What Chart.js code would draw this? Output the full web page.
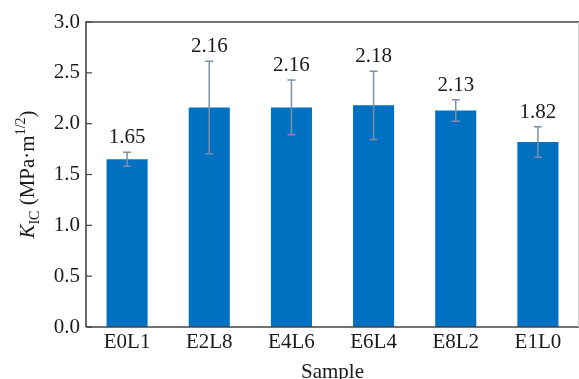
<!DOCTYPE html>
<html>
<head>
<meta charset="utf-8">
<script src="https://cdn.jsdelivr.net/npm/chart.js@4.4.1/dist/chart.umd.min.js"></script>
<style>
  html, body { margin: 0; padding: 0; background: #fff; }
  #wrap { width: 579px; height: 379px; }
</style>
</head>
<body>
<div id="wrap"><canvas id="chart" width="579" height="379"></canvas></div>
<script>
// data
const samples = ['E0L1', 'E2L8', 'E4L6', 'E6L4', 'E8L2', 'E1L0'];
const kic = [1.65, 2.16, 2.16, 2.18, 2.13, 1.82];
const kicErr = [0.07, 0.455, 0.27, 0.335, 0.105, 0.15];
const yTicks = [0, 0.5, 1.0, 1.5, 2.0, 2.5, 3.0];

const FONT = '"Liberation Serif", "Times New Roman", serif';

// frame, inward ticks, error bars, value labels and axis titles
const decorations = {
  id: 'decorations',
  afterDatasetsDraw(chart) {
    const ctx = chart.ctx;
    const area = chart.chartArea;
    const y = chart.scales.y;
    const meta = chart.getDatasetMeta(0);

    ctx.save();
    // error bars
    ctx.strokeStyle = '#7d90aa';
    ctx.lineWidth = 1.5;
    meta.data.forEach((bar, i) => {
      const top = y.getPixelForValue(kic[i] + kicErr[i]);
      const bot = y.getPixelForValue(kic[i] - kicErr[i]);
      ctx.beginPath();
      ctx.moveTo(bar.x, top); ctx.lineTo(bar.x, bot);
      ctx.moveTo(bar.x - 4, top); ctx.lineTo(bar.x + 4, top);
      ctx.moveTo(bar.x - 4, bot); ctx.lineTo(bar.x + 4, bot);
      ctx.stroke();
    });

    // value labels above error bars
    ctx.fillStyle = '#1a1a1a';
    ctx.font = '21px ' + FONT;
    ctx.textAlign = 'center';
    ctx.textBaseline = 'alphabetic';
    meta.data.forEach((bar, i) => {
      const top = y.getPixelForValue(kic[i] + kicErr[i]);
      ctx.fillText(kic[i].toFixed(2), bar.x, top - 9);
    });

    // frame
    ctx.strokeStyle = '#444';
    ctx.lineWidth = 1.6;
    ctx.beginPath();
    ctx.moveTo(area.left, area.bottom);
    ctx.lineTo(area.left, area.top);
    ctx.lineTo(area.right, area.top);
    ctx.moveTo(area.left, area.bottom);
    ctx.lineTo(area.right, area.bottom);
    ctx.stroke();
    ctx.strokeStyle = '#d0d0d0';
    ctx.lineWidth = 1;
    ctx.beginPath();
    ctx.moveTo(area.right - 0.5, area.top);
    ctx.lineTo(area.right - 0.5, area.bottom);
    ctx.stroke();

    // inward y ticks
    ctx.strokeStyle = '#444';
    ctx.lineWidth = 1.2;
    yTicks.forEach(v => {
      const py = y.getPixelForValue(v);
      ctx.beginPath();
      ctx.moveTo(area.left, py);
      ctx.lineTo(area.left + 6, py);
      ctx.stroke();
    });

    // x title
    ctx.fillStyle = '#1a1a1a';
    ctx.font = '21px ' + FONT;
    ctx.textAlign = 'center';
    ctx.textBaseline = 'middle';
    ctx.fillText('Sample', (area.left + area.right) / 2, 372);

    // y title: K_IC (MPa·m^1/2), rotated
    ctx.translate(27, (area.top + area.bottom) / 2);
    ctx.rotate(-Math.PI / 2);
    const parts = [
      { t: 'K', f: 'italic 21px ' + FONT, dy: 0 },
      { t: 'IC', f: '14px ' + FONT, dy: 5 },
      { t: ' (MPa\u00b7m', f: '21px ' + FONT, dy: 0 },
      { t: '1/2', f: '14px ' + FONT, dy: -9 },
      { t: ')', f: '21px ' + FONT, dy: 0 }
    ];
    let total = 0;
    parts.forEach(p => { ctx.font = p.f; p.w = ctx.measureText(p.t).width; total += p.w; });
    let x = -total / 2;
    ctx.textAlign = 'left';
    ctx.textBaseline = 'alphabetic';
    parts.forEach(p => {
      ctx.font = p.f;
      ctx.fillText(p.t, x, 7 + p.dy);
      x += p.w;
    });
    ctx.restore();
  }
};

new Chart(document.getElementById('chart'), {
  type: 'bar',
  data: {
    labels: samples,
    datasets: [{
      label: 'KIC',
      data: kic,
      backgroundColor: '#0070c0',
      borderWidth: 0,
      categoryPercentage: 1.0,
      barPercentage: 0.5
    }]
  },
  options: {
    responsive: false,
    animation: false,
    devicePixelRatio: 1,
    layout: { padding: { top: 22, right: 0, left: 0, bottom: 0 } },
    plugins: {
      legend: { display: false },
      tooltip: { enabled: false }
    },
    scales: {
      x: {
        grid: { display: false, drawTicks: false },
        border: { display: false },
        ticks: {
          padding: 3,
          color: '#1a1a1a',
          font: { family: FONT, size: 21 },
          maxRotation: 0,
          autoSkip: false
        },
        afterFit: s => { s.height = 52; }
      },
      y: {
        min: 0,
        max: 3,
        grid: { display: false, drawTicks: false },
        border: { display: false },
        ticks: {
          stepSize: 0.5,
          padding: 6,
          color: '#1a1a1a',
          font: { family: FONT, size: 21 },
          callback: v => v.toFixed(1)
        },
        afterFit: s => { s.width = 86; }
      }
    }
  },
  plugins: [decorations]
});
</script>
</body>
</html>
